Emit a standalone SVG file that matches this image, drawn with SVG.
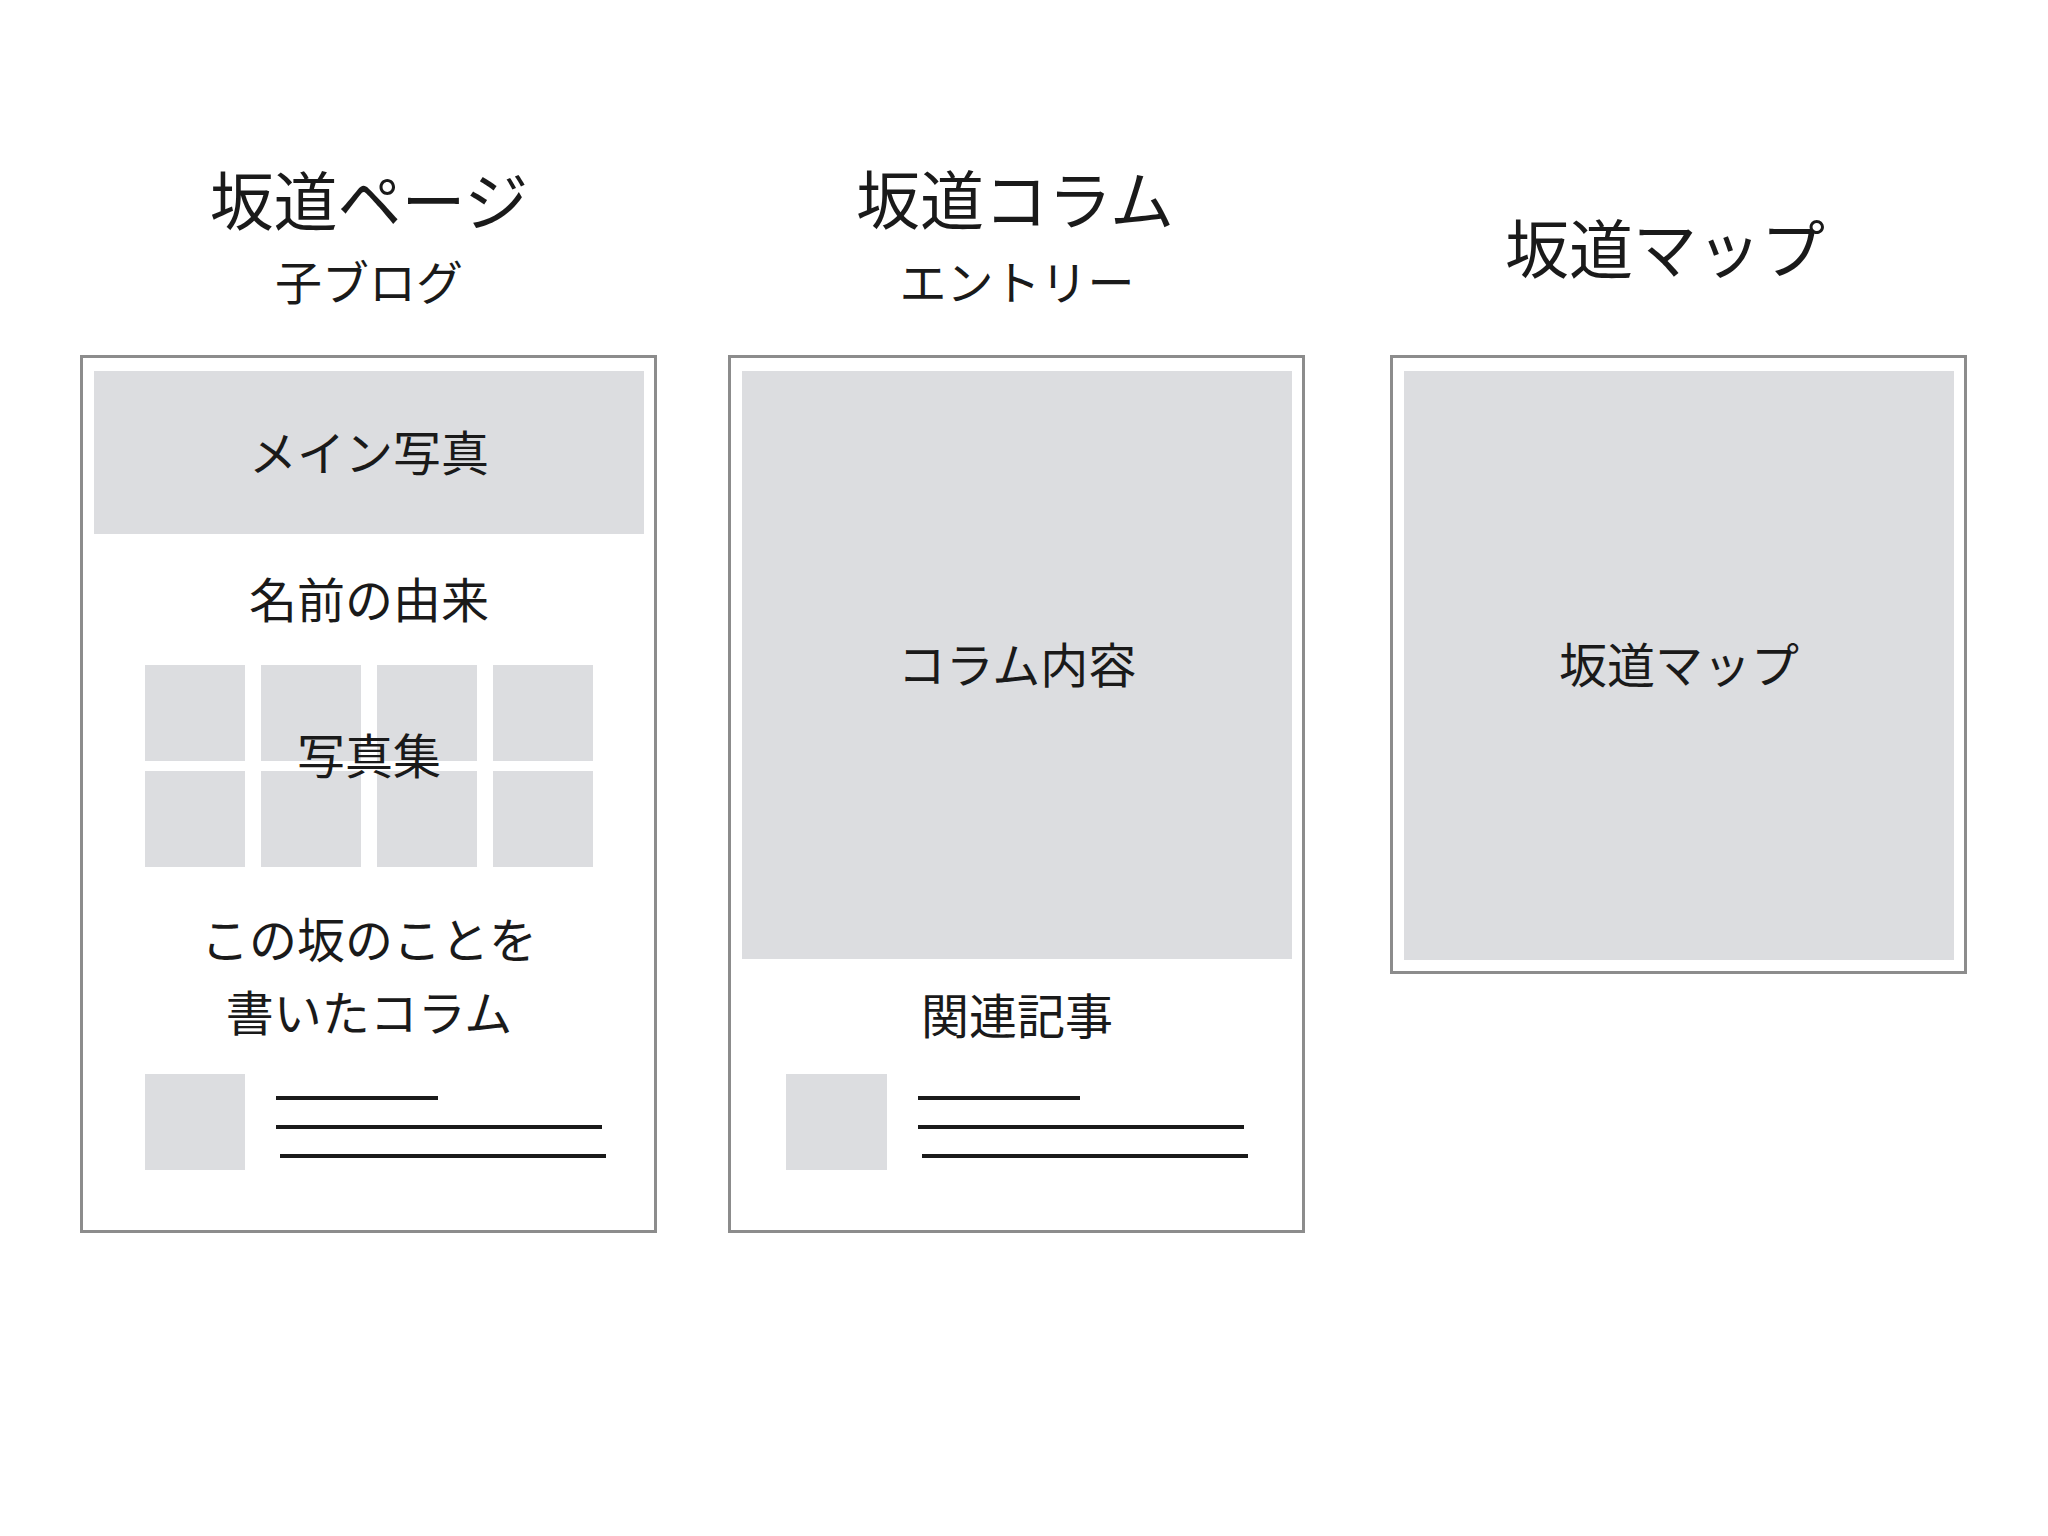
<svg xmlns="http://www.w3.org/2000/svg" width="2048" height="1536" viewBox="0 0 2048 1536">
  <style>
    .frame { fill: #ffffff; stroke: #8c8c8c; stroke-width: 3; }
    .ph { fill: #dcdde0; }
    .ln { stroke: #1a1a1a; stroke-width: 4; }
    text { font-family: "Noto Sans CJK JP", "Noto Sans", sans-serif; fill: #1a1a1a; text-anchor: middle; dominant-baseline: central; }
    .title { font-size: 64px; }
    .sub { font-size: 47px; }
    .body { font-size: 48px; }
  </style>
  <rect width="2048" height="1536" fill="#ffffff"/>

  <g id="page">
    <text class="title" x="369" y="197">坂道ページ</text>
    <text class="sub" x="369" y="279">子ブログ</text>
    <rect class="frame" x="81.5" y="356.5" width="574" height="875"/>
    <rect class="ph" x="94" y="371" width="550" height="163"/>
    <text class="body" x="369" y="450">メイン写真</text>
    <text class="body" x="369" y="597">名前の由来</text>
    <rect class="ph" x="145" y="665" width="100" height="96"/>
    <rect class="ph" x="261" y="665" width="100" height="96"/>
    <rect class="ph" x="377" y="665" width="100" height="96"/>
    <rect class="ph" x="493" y="665" width="100" height="96"/>
    <rect class="ph" x="145" y="771" width="100" height="96"/>
    <rect class="ph" x="261" y="771" width="100" height="96"/>
    <rect class="ph" x="377" y="771" width="100" height="96"/>
    <rect class="ph" x="493" y="771" width="100" height="96"/>
    <text class="body" x="369" y="753">写真集</text>
    <text class="body" x="369" y="937">この坂のことを</text>
    <text class="body" x="369" y="1010">書いたコラム</text>
    <rect class="ph" x="145" y="1074" width="100" height="96"/>
    <line class="ln" x1="276" y1="1098" x2="438" y2="1098"/>
    <line class="ln" x1="276" y1="1127" x2="602" y2="1127"/>
    <line class="ln" x1="280" y1="1156" x2="606" y2="1156"/>
  </g>

  <g id="column">
    <text class="title" x="1015" y="196">坂道コラム</text>
    <text class="sub" x="1017" y="279">エントリー</text>
    <rect class="frame" x="729.5" y="356.5" width="574" height="875"/>
    <rect class="ph" x="742" y="371" width="550" height="588"/>
    <text class="body" x="1017" y="662">コラム内容</text>
    <text class="body" x="1017" y="1013">関連記事</text>
    <rect class="ph" x="786" y="1074" width="101" height="96"/>
    <line class="ln" x1="918" y1="1098" x2="1080" y2="1098"/>
    <line class="ln" x1="918" y1="1127" x2="1244" y2="1127"/>
    <line class="ln" x1="922" y1="1156" x2="1248" y2="1156"/>
  </g>

  <g id="map">
    <text class="title" x="1665" y="245">坂道マップ</text>
    <rect class="frame" x="1391.5" y="356.5" width="574" height="616"/>
    <rect class="ph" x="1404" y="371" width="550" height="589"/>
    <text class="body" x="1679" y="662">坂道マップ</text>
  </g>

  <g id="connectors"/>
</svg>
